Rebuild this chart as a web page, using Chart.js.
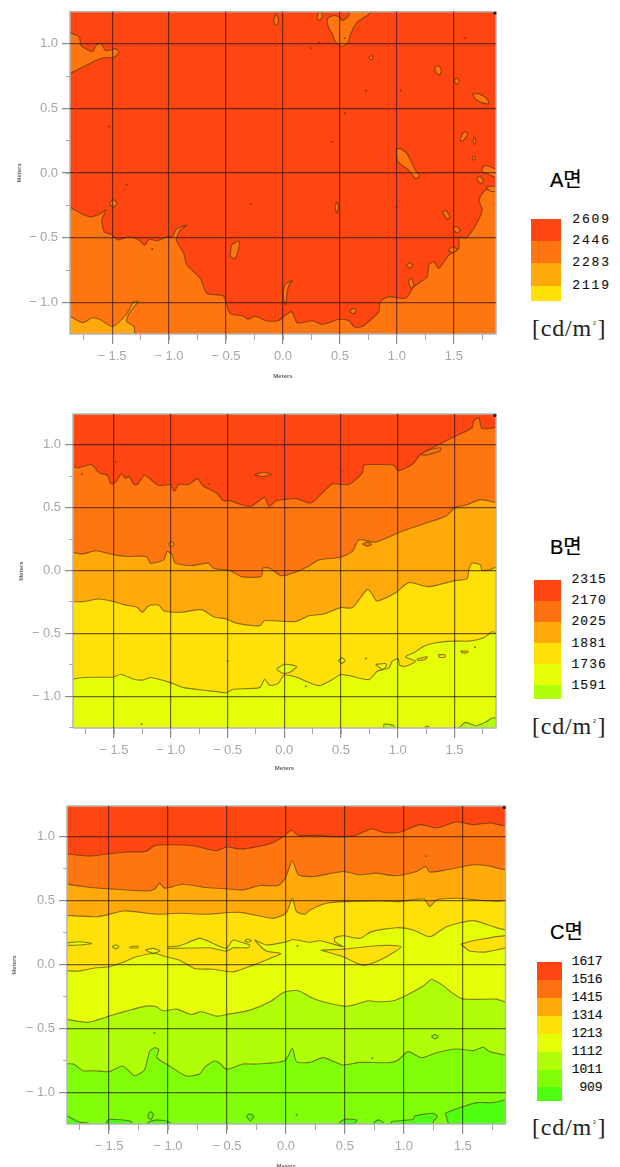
<!DOCTYPE html>
<html><head><meta charset="utf-8">
<script src="https://cdn.jsdelivr.net/npm/chart.js@4"></script>
<style>
html,body{margin:0;padding:0;background:#fff;width:620px;height:1167px;overflow:hidden}
canvas{position:absolute;left:0;filter:blur(0.45px)}
.t{position:absolute;white-space:nowrap}
.sw{position:absolute}
.ttl{font:20px "Liberation Sans","Noto Sans CJK KR",sans-serif;color:#000;-webkit-text-stroke:.2px #000}
.val{font:13px "Liberation Mono",monospace;color:#111;text-align:right;-webkit-text-stroke:.15px #111}
.unit{font:24px "Liberation Serif",serif;color:#222;letter-spacing:.8px}
.unit span{font-size:9px;position:relative;top:-9px;margin:0 1px}
</style></head><body>
<canvas id="cA" width="500" height="390" style="top:0"></canvas>
<canvas id="cB" width="500" height="375" style="top:400px"></canvas>
<canvas id="cC" width="510" height="381" style="top:790px"></canvas>
<script>
// ---------- Colour bands (legend order) ----------
const legendA=["2609","2446","2283","2119"];
const legendB=["2315","2170","2025","1881","1736","1591"];
const legendC=["1617","1516","1415","1314","1213","1112","1011","909"];
const colRed="#FF4510",colOrange="#FF7510",colAmber="#FFAA0A",colYellow="#FFE008",colYG="#E4FF08",colLime="#AEFF08",colGreen="#80FF08",colBright="#50FF10";

// ---------- Chart A contours (metres) ----------
const aMain=[[-1.9,-.247],[-1.773,-.312],[-1.686,-.338],[-1.599,-.312],[-1.555,-.286],[-1.59,-.363],[-1.57,-.454],[-1.497,-.479],[-1.453,-.518],[-1.352,-.492],[-1.265,-.518],[-1.215,-.557],[-1.177,-.513],[-1.105,-.523],[-1.017,-.492],[-.974,-.492],[-.93,-.428],[-.843,-.402],[-.901,-.441],[-.936,-.518],[-.872,-.621],[-.843,-.711],[-.727,-.814],[-.669,-.93],[-.523,-.951],[-.465,-1.085],[-.349,-1.106],[-.305,-1.131],[-.247,-1.106],[-.145,-1.144],[-.044,-1.142],[.073,-1.072],[.116,-1.149],[.14,-1.162],[.257,-1.142],[.345,-1.17],[.491,-1.131],[.579,-1.142],[.623,-1.188],[.696,-1.188],[.842,-1.072],[.851,-.995],[.93,-.956],[1.076,-.969],[1.149,-.879],[1.266,-.802],[1.281,-.711],[1.325,-.686],[1.368,-.737],[1.456,-.634],[1.544,-.582],[1.544,-.492],[1.602,-.505],[1.675,-.428],[1.749,-.286],[1.72,-.209],[1.778,-.131],[1.9,-.11],[1.9,1.4],[-1.9,1.4]];
const aLowLeft=[[-1.9,-1.09],[-1.759,-1.157],[-1.672,-1.119],[-1.599,-1.137],[-1.497,-1.188],[-1.381,-1.098],[-1.308,-.995],[-1.273,-.995],[-1.352,-1.085],[-1.372,-1.149],[-1.308,-1.188],[-1.302,-1.265],[-1.302,-1.4],[-1.9,-1.4]];
const aIslands=[
[[-1.9,1.098],[-1.788,1.052],[-1.773,.987],[-1.672,.941],[-1.642,.987],[-1.599,1.005],[-1.555,.948],[-1.468,.961],[-1.439,.936],[-1.483,.897],[-1.57,.892],[-1.657,.866],[-1.759,.82],[-1.9,.773]],
[[-.058,1.235],[-.04,1.19],[-.05,1.145],[-.07,1.15],[-.08,1.19]],
[[.34,1.245],[.345,1.21],[.32,1.18],[.3,1.2],[.31,1.24]],
[[.842,1.3],[.74,1.219],[.652,1.168],[.594,1.077],[.573,1.013],[.52,.979],[.456,1.021],[.433,1.077],[.404,1.116],[.389,1.193],[.447,1.219],[.497,1.206],[.52,1.18],[.579,1.219],[.579,1.3]],
[[1.33,.82],[1.37,.83],[1.39,.79],[1.375,.76],[1.345,.775]],
[[1.5,.71],[1.525,.735],[1.55,.71],[1.525,.69]],
[[1.661,.613],[1.72,.613],[1.792,.575],[1.807,.536],[1.734,.549],[1.69,.575]],
[[1.553,.258],[1.588,.317],[1.623,.309],[1.602,.273],[1.573,.247]],
[[1.67,.25],[1.68,.28],[1.695,.25],[1.68,.22]],
[[1.66,.115],[1.675,.13],[1.69,.115],[1.675,.1]],
[[.755,.892],[.772,.91],[.79,.892],[.772,.875]],
[[.994,.188],[1.032,.188],[1.09,.149],[1.134,.072],[1.164,.02],[1.199,-.018],[1.164,-.044],[1.105,.02],[1.047,.059],[1.003,.098]],
[[1.749,.046],[1.792,.059],[1.9,.008],[1.9,-.044],[1.792,-.005],[1.749,.008]],
[[1.7,-.04],[1.73,-.025],[1.76,-.06],[1.735,-.08],[1.71,-.06]],
[[1.78,-.11],[1.85,-.1],[1.9,-.11],[1.9,-.14],[1.82,-.14]],
[[-1.525,-.235],[-1.49,-.205],[-1.455,-.235],[-1.49,-.265]],
[[-.465,-.647],[-.451,-.557],[-.384,-.526],[-.392,-.595],[-.421,-.66]],
[[0,-.905],[.029,-.853],[.081,-.832],[.052,-.866],[.035,-.93],[.023,-1.021],[.006,-.982]],
[[.457,-.265],[.472,-.22],[.487,-.265],[.472,-.31]],
[[1.398,-.299],[1.433,-.291],[1.465,-.338],[1.442,-.358]],
[[1.491,-.42],[1.529,-.415],[1.558,-.446],[1.52,-.461]],
[[1.45,-.6],[1.485,-.57],[1.529,-.59],[1.491,-.616]],
[[1.082,-.714],[1.111,-.693],[1.14,-.714],[1.111,-.735]],
[[1.099,-.84],[1.126,-.814],[1.149,-.866],[1.126,-.892]],
[[.585,-1.067],[.614,-1.046],[.643,-1.067],[.614,-1.09]]
];
const aDots=[[-1.526,.361],[-1.372,-.09],[.316,1.008],[.243,.966],[.544,1.044],[1.602,1.044],[.731,.639],[1.032,.639],[.544,.464],[.427,.24],[-.285,-.24],[-1.148,-.588],[.997,-.26]];

// ---------- Chart B contours ----------
const b1=[[-1.9,.875],[-1.827,.816],[-1.704,.843],[-1.631,.777],[-1.558,.758],[-1.529,.689],[-1.485,.705],[-1.436,.769],[-1.398,.731],[-1.369,.75],[-1.325,.684],[-1.29,.689],[-1.232,.758],[-1.106,.676],[-1.004,.684],[-.969,.63],[-.931,.684],[-.843,.684],[-.765,.731],[-.712,.67],[-.596,.617],[-.538,.556],[-.48,.556],[-.378,.524],[-.29,.513],[-.173,.582],[-.136,.511],[-.071,.556],[-.012,.564],[.105,.572],[.233,.537],[.321,.604],[.424,.689],[.57,.684],[.688,.777],[.702,.838],[.805,.843],[.966,.838],[1.004,.795],[1.128,.843],[1.201,.923],[1.304,.976],[1.479,1.056],[1.655,1.136],[1.67,1.189],[1.714,1.215],[1.743,1.13],[1.9,1.157],[1.9,1.4],[-1.9,1.4]];
const b2=[[-1.9,.152],[-1.777,.133],[-1.66,.157],[-1.5,.125],[-1.383,.112],[-1.214,.112],[-1.179,.059],[-1.063,.085],[-1.033,.152],[-.99,.13],[-.961,.059],[-.815,.04],[-.669,.059],[-.625,.019],[-.48,0],[-.378,-.048],[-.203,-.048],[-.188,.019],[-.13,.019],[-.028,-.04],[.074,-.021],[.218,.037],[.306,.085],[.497,.106],[.6,.152],[.658,.245],[.805,.226],[1.0,.298],[1.098,.332],[1.421,.431],[1.509,.503],[1.597,.519],[1.729,.564],[1.9,.551],[1.9,1.4],[-1.9,1.4]];
const b3=[[-1.9,-.247],[-1.773,-.247],[-1.631,-.226],[-1.5,-.247],[-1.413,-.271],[-1.296,-.293],[-1.252,-.332],[-1.194,-.279],[-1.106,-.274],[-1.063,-.319],[-.917,-.332],[-.727,-.311],[-.625,-.367],[-.509,-.386],[-.421,-.418],[-.217,-.439],[-.173,-.399],[0,-.404],[.102,-.404],[.22,-.359],[.336,-.348],[.497,-.295],[.6,-.295],[.732,-.149],[.776,-.189],[.814,-.242],[.981,-.176],[1.098,-.096],[1.274,-.128],[1.494,-.082],[1.611,-.064],[1.626,.005],[1.655,.059],[1.729,.045],[1.743,0],[1.83,.013],[1.9,.059],[1.9,1.4],[-1.9,1.4]];
const b4=[[-1.9,-.87],[-1.773,-.851],[-1.5,-.846],[-1.442,-.824],[-1.325,-.864],[-1.238,-.87],[-1.179,-.851],[-1.004,-.891],[-.888,-.931],[-.654,-.957],[-.509,-.971],[-.45,-.944],[-.217,-.931],[-.173,-.864],[-.13,-.912],[-.056,-.899],[0,-.832],[.117,-.851],[.189,-.88],[.306,-.915],[.424,-.867],[.497,-.827],[.57,-.835],[.746,-.867],[.819,-.801],[.922,-.774],[.952,-.721],[1.004,-.702],[1.019,-.755],[1.069,-.761],[1.157,-.721],[1.069,-.686],[1.142,-.654],[1.23,-.601],[1.333,-.574],[1.494,-.561],[1.626,-.561],[1.758,-.535],[1.831,-.487],[1.9,-.5],[1.9,1.4],[-1.9,1.4]];
const bLime=[[1.538,-1.253],[1.597,-1.207],[1.685,-1.234],[1.773,-1.207],[1.831,-1.173],[1.9,-1.181],[1.9,-1.4],[1.538,-1.4]];
const bLimeSmall=[[[.878,-1.218],[.965,-1.234],[.965,-1.3],[.878,-1.3]],[[1.245,-1.24],[1.27,-1.24],[1.27,-1.3],[1.245,-1.3]]];
const bOrangeIslands=[[[-.261,.763],[-.188,.782],[-.115,.763],[-.188,.747]],[[1.201,.928],[1.289,.963],[1.377,.976],[1.377,.955],[1.289,.928],[1.23,.918]],[[.688,.21],[.732,.226],[.77,.21],[.732,.194]]];
const bAmberIslands=[[[-1.02,.21],[-.996,.23],[-.972,.21],[-.996,.19]]];
const bYellowIslands=[[[1.172,-.702],[1.26,-.686],[1.239,-.707],[1.172,-.713]],[[1.356,-.67],[1.415,-.668],[1.415,-.689],[1.368,-.689]],[[1.553,-.641],[1.62,-.641],[1.611,-.654],[1.567,-.654]]];
const bYGIslands=[[[-.07,-.785],[0,-.745],[.108,-.763],[.044,-.811],[-.015,-.817]],[[.805,-.747],[.893,-.739],[.899,-.761],[.864,-.787],[.834,-.766]],[[.477,-.715],[.506,-.694],[.535,-.715],[.506,-.739]]];
const bDots=[[-1.783,.769],[-1.485,.864],[-.663,.689],[.506,.785],[-1.258,-1.22],[.72,-.7],[1.68,-.61],[-.5,-.72],[.19,-.92]];

// ---------- Chart C contours ----------
const c1=[[-1.9,.872],[-1.667,.848],[-1.5,.866],[-1.356,.88],[-1.186,.885],[-1.115,.929],[-1,.937],[-.789,.929],[-.591,.89],[-.5,.919],[-.389,.903],[-.278,.916],[-.136,.945],[-.024,1.0],[.047,1.05],[.105,1.01],[.204,1.01],[.288,1.01],[.401,1.0],[.571,1.005],[.726,1.06],[.825,1.034],[.963,1.034],[1.136,1.094],[1.277,1.068],[1.445,1.115],[1.588,1.094],[1.729,1.107],[1.9,1.089],[1.9,1.4],[-1.9,1.4]];
const c2=[[-1.9,.636],[-1.724,.61],[-1.582,.597],[-1.186,.576],[-1.115,.589],[-1.072,.636],[-1.03,.597],[-.874,.628],[-.676,.602],[-.5,.592],[-.364,.584],[-.222,.618],[-.067,.618],[-.007,.675],[.055,.812],[.105,.702],[.232,.688],[.486,.728],[.627,.702],[.768,.715],[.924,.694],[1.107,.728],[1.186,.767],[1.22,.723],[1.362,.741],[1.588,.78],[1.701,.775],[1.9,.749],[1.9,1.4],[-1.9,1.4]];
const c3=[[-1.9,.387],[-1.596,.374],[-1.37,.419],[-1.1,.393],[-.902,.401],[-.676,.393],[-.392,.408],[-.109,.361],[0,.401],[.055,.518],[.089,.414],[.16,.393],[.204,.427],[.345,.479],[.486,.492],[.797,.497],[.966,.492],[1.17,.513],[1.22,.453],[1.277,.505],[1.446,.518],[1.9,.524],[1.9,1.4],[-1.9,1.4]];
const c4=[[-1.9,-.045],[-1.766,-.052],[-1.61,-.026],[-1.5,-.018],[-1.37,.021],[-1.27,.06],[-1.115,.086],[-1.015,.06],[-.902,.034],[-.775,-.031],[-.619,-.037],[-.449,-.058],[-.278,-.005],[-.136,.047],[-.044,.086],[-.166,.105],[-.265,.191],[-.166,.152],[.005,.178],[.061,.196],[.204,.173],[.288,.186],[.486,.139],[.415,.178],[.415,.209],[.486,.225],[.627,.204],[.726,.257],[.938,.288],[1.079,.27],[1.22,.217],[1.362,.296],[1.588,.343],[1.9,.283],[1.9,1.4],[-1.9,1.4]];
const c5=[[-1.9,-.422],[-1.681,-.453],[-1.5,-.404],[-1.356,-.365],[-1.186,-.326],[-1.1,-.331],[-1.044,-.362],[-.93,-.349],[-.803,-.391],[-.718,-.37],[-.589,-.404],[-.5,-.391],[-.305,-.357],[-.136,-.292],[-.009,-.214],[.105,-.206],[.232,-.266],[.373,-.305],[.5,-.326],[.571,-.318],[.698,-.284],[.768,-.292],[.91,-.284],[1.023,-.24],[1.164,-.169],[1.234,-.117],[1.305,-.148],[1.489,-.266],[1.785,-.271],[1.9,-.292],[1.9,1.4],[-1.9,1.4]];
const c6=[[-1.9,-.779],[-1.805,-.779],[-1.72,-.831],[-1.62,-.831],[-1.5,-.839],[-1.384,-.794],[-1.285,-.87],[-1.2,-.826],[-1.157,-.682],[-1.115,-.651],[-1.078,-.664],[-1.095,-.729],[-.987,-.794],[-.845,-.872],[-.732,-.857],[-.69,-.805],[-.605,-.755],[-.562,-.773],[-.506,-.82],[-.364,-.779],[-.251,-.779],[-.009,-.753],[.055,-.656],[.089,-.76],[.204,-.766],[.316,-.729],[.486,-.786],[.627,-.766],[.881,-.768],[.952,-.747],[1.037,-.682],[1.15,-.729],[1.277,-.69],[1.446,-.661],[1.588,-.674],[1.672,-.648],[1.729,-.682],[1.9,-.695],[1.9,1.4],[-1.9,1.4]];
const c7=[[1.376,-1.242],[1.362,-1.19],[1.353,-1.164],[1.503,-1.112],[1.616,-1.081],[1.757,-1.081],[1.9,-1.065],[1.9,-1.4],[1.376,-1.4]];
const cBrightSmall=[
[[.895,-1.229],[1.079,-1.211],[1.093,-1.185],[1.249,-1.164],[1.283,-1.19],[1.249,-1.229],[1.249,-1.3],[.895,-1.3]],
[[.458,-1.229],[.5,-1.211],[.599,-1.216],[.585,-1.242],[.458,-1.242]],
[[.746,-1.237],[.782,-1.216],[.825,-1.237],[.825,-1.3],[.746,-1.3]],
[[-1.9,-1.159],[-1.752,-1.234],[-1.68,-1.24],[-1.68,-1.3],[-1.9,-1.3]],
[[-1.525,-1.234],[-1.497,-1.211],[-1.313,-1.229],[-1.313,-1.3],[-1.525,-1.3]],
[[-1.171,-1.234],[-1.1,-1.216],[-.987,-1.234],[-.987,-1.3],[-1.171,-1.3]],
[[-1.171,-1.177],[-1.149,-1.151],[-1.123,-1.177],[-1.143,-1.211],[-1.166,-1.203]],
[[-.336,-1.185],[-.307,-1.169],[-.273,-1.185],[-.302,-1.224]]
];
const cGreenIslands=[[[1.234,-.565],[1.263,-.547],[1.291,-.565],[1.263,-.583]]];
const cYGIslands=[
[[-1.9,.165],[-1.751,.178],[-1.644,.165],[-1.751,.152],[-1.9,.152]],
[[-1.474,.139],[-1.44,.154],[-1.418,.139],[-1.446,.123]],
[[-1.322,.139],[-1.256,.144],[-1.256,.131],[-1.322,.131]],
[[-1.194,.113],[-1.129,.126],[-1.067,.107],[-1.129,.089]],
[[-1,.139],[-.902,.147],[-.732,.204],[-.619,.165],[-.506,.126],[-.449,.191],[-.392,.178],[-.307,.152],[-.321,.131],[-.449,.131],[-.506,.105],[-.562,.113],[-.647,.131],[-1,.126]],
[[-.35,.186],[-.322,.199],[-.293,.186],[-.322,.175]]
];
const cYellowIslands=[
[[.294,.113],[.486,.12],[.768,.147],[.975,.139],[.825,.047],[.655,-.005],[.486,.06]],
[[1.483,.16],[1.616,.191],[1.9,.225],[1.9,.145],[1.701,.099],[1.559,.105]]
];
const cDots=[[-1.115,-.534],[1.186,.846],[.098,.144],[.732,-.734],[.09,-1.175]];

// ---------- Axis ranges ----------
const xRangeA=[-1.87,1.87], yRangeA=[-1.245,1.248];
const xRangeB=[-1.862,1.866], yRangeB=[-1.252,1.245];
const xRangeC=[-1.857,1.862], yRangeC=[-1.248,1.24];

// ---------- Helpers ----------
const LINE="rgba(70,45,0,.6)";
const pts=a=>a.map(p=>({x:p[0],y:p[1]}));
function region(a,col,stroke){
  return {type:"line",data:pts(a.concat([a[0]])),fill:"shape",backgroundColor:col,borderColor:stroke===false?col:LINE,borderWidth:stroke===false?0:1.1,tension:.22,capBezierPoints:false,pointRadius:0,clip:0,xAxisID:"x",yAxisID:"y"};
}
function dots(a,col){return {type:"line",data:pts(a),showLine:false,fill:false,pointRadius:1,pointBackgroundColor:col,pointBorderWidth:0,clip:0,xAxisID:"x",yAxisID:"y"};}
function frameAndCorner(xr,yr){
  return [
   {type:"line",data:pts([[xr[0],yr[0]],[xr[1],yr[0]],[xr[1],yr[1]],[xr[0],yr[1]],[xr[0],yr[0]]]),fill:false,borderColor:"#b4b4b4",borderWidth:1.5,pointRadius:0,clip:false,xAxisID:"x",yAxisID:"y"},
   {type:"line",data:pts([[xr[1]-.01,yr[1]-.012]]),showLine:false,pointRadius:1.5,pointBackgroundColor:"#111",pointBorderWidth:0,clip:false,xAxisID:"x",yAxisID:"y"}
  ];
}
function fmt(v){
  const s=Math.abs(v).toFixed(1);
  return (v<0?"\u2212\u2005":"")+s;
}
function makeChart(id,layers,xr,yr,L){
  const all=layers.concat(frameAndCorner(xr,yr));
  all.forEach((d,i)=>{d.order=all.length-i;});
  const labelCol="#a6a6a6", tickCol="#8a8a8a", gridCol="rgba(30,15,0,.62)";
  new Chart(document.getElementById(id),{
    data:{datasets:all},
    options:{
      responsive:false,animation:false,
      layout:{padding:{left:0,top:L.top,right:L.right,bottom:0}},
      plugins:{legend:{display:false},tooltip:{enabled:false}},
      events:[],
      scales:{
        x:{type:"linear",position:"bottom",min:xr[0],max:xr[1],afterFit(s){s.height=L.xh;},
           border:{display:false},
           grid:{z:1,color:gridCol,lineWidth:1.2,tickColor:tickCol,tickLength:10},
           ticks:{stepSize:.5,includeBounds:false,maxRotation:0,padding:5,color:labelCol,font:{family:"Liberation Sans",size:13},callback:fmt},
           title:{display:true,text:"Meters",color:"#666",font:{family:"Liberation Sans",size:6,weight:"bold"},padding:{top:0,bottom:L.xtb}}},
        y:{type:"linear",position:"left",min:yr[0],max:yr[1],afterFit(s){s.width=L.yw;},
           border:{display:false},
           grid:{z:1,color:gridCol,lineWidth:1.2,tickColor:tickCol,tickLength:8},
           ticks:{stepSize:.5,includeBounds:false,padding:4,color:labelCol,font:{family:"Liberation Sans",size:13},callback:fmt},
           title:{display:true,text:"Meters",color:"#666",font:{family:"Liberation Sans",size:6,weight:"bold"},padding:{top:L.ytb,bottom:0}}},
        xm:{type:"linear",axis:"x",position:{y:yr[0]},min:xr[0],max:xr[1],
           border:{display:false},
           grid:{drawOnChartArea:false,color:"transparent",tickColor:"#a8a8a8",tickLength:6},
           ticks:{display:false,stepSize:.25,includeBounds:false,autoSkip:false}},
        ym:{type:"linear",axis:"y",position:{x:xr[0]},min:yr[0],max:yr[1],
           border:{display:false},
           grid:{drawOnChartArea:false,color:"transparent",tickColor:"#a8a8a8",tickLength:4},
           ticks:{display:false,stepSize:.25,includeBounds:false,autoSkip:false}}
      }
    }
  });
}

// ---------- Charts ----------
const base=(col)=>region([[-2,-1.5],[2,-1.5],[2,1.5],[-2,1.5]],col,false);
makeChart("cA",[
  base(colOrange),
  region(aLowLeft,colAmber),
  region(aMain,colRed),
  ...aIslands.map(p=>region(p,colOrange)),
  dots(aDots,"rgba(130,40,0,.8)")
],xRangeA,yRangeA,{top:11,right:3,xh:56,yw:70,xtb:10,ytb:16});

makeChart("cB",[
  base(colYG),
  region(bLime,colLime),
  ...bLimeSmall.map(p=>region(p,colLime)),
  region(b4,colYellow),
  ...bYGIslands.map(p=>region(p,colYG)),
  ...bYellowIslands.map(p=>region(p,colYellow)),
  region(b3,colAmber),
  region(b2,colOrange),
  ...bAmberIslands.map(p=>region(p,colAmber)),
  region(b1,colRed),
  ...bOrangeIslands.map(p=>region(p,colOrange)),
  dots(bDots,"rgba(120,80,0,.8)")
],xRangeB,yRangeB,{top:14,right:2.5,xh:47,yw:73,xtb:3,ytb:18});

makeChart("cC",[
  base(colGreen),
  region(c7,colBright),
  ...cBrightSmall.map(p=>region(p,colBright)),
  region(c6,colLime),
  ...cGreenIslands.map(p=>region(p,colGreen)),
  region(c5,colYG),
  region(c4,colYellow),
  ...cYGIslands.map(p=>region(p,colYG)),
  ...cYellowIslands.map(p=>region(p,colYellow)),
  region(c3,colAmber),
  region(c2,colOrange),
  region(c1,colRed),
  dots(cDots,"rgba(70,100,0,.8)")
],xRangeC,yRangeC,{top:16,right:4.5,xh:47,yw:67,xtb:1,ytb:11});

// ---------- Side legends (real text) ----------
function addText(cls,html,x,cy,h,w,spacing){
  const d=document.createElement("div");d.className="t "+cls;d.innerHTML=html;
  d.style.left=x+"px";d.style.top=(cy-h/2)+"px";d.style.lineHeight=h+"px";
  if(w)d.style.width=w+"px";
  if(spacing)d.style.letterSpacing=spacing+"px";
  document.body.appendChild(d);
}
function addLegend(title,titleY,vals,cols,sw,labelX,labelW,spacing,unitY,edges,centers){
  addText("ttl",title,550,titleY,24);
  cols.forEach((c,i)=>{
    const d=document.createElement("div");d.className="sw";d.style.background=c;
    d.style.left=sw[0]+"px";d.style.width=(sw[1]-sw[0])+"px";
    d.style.top=edges[i]+"px";d.style.height=(edges[i+1]-edges[i])+"px";
    document.body.appendChild(d);
  });
  vals.forEach((v,i)=>addText("val",v,labelX,centers[i],16,labelW,spacing));
  addText("unit","[cd/m<span>²</span>]",532,unitY,30);
}
addLegend("A면",180,legendA,[colRed,colOrange,colAmber,colYellow],[531,561],571,40,1.9,328,
  [219,241,263,285.5,301],[219.5,241,263,285.5]);
addLegend("B면",546.5,legendB,[colRed,"#FF7010",colAmber,colYellow,colYG,colLime],[534,561],570,37,1.1,726,
  [580,601,622,643,664,685,699],[580,601,622,643.5,664.5,685.5]);
addLegend("C면",931.5,legendC,[colRed,"#FF7010",colAmber,colYellow,colYG,colLime,colGreen,colBright],[537,562],570,32.5,-.1,1127,
  [962,980,998,1016,1034,1052,1070,1087,1101],[962,980,998,1016,1034,1052,1070,1087.5]);
</script>
</body></html>
